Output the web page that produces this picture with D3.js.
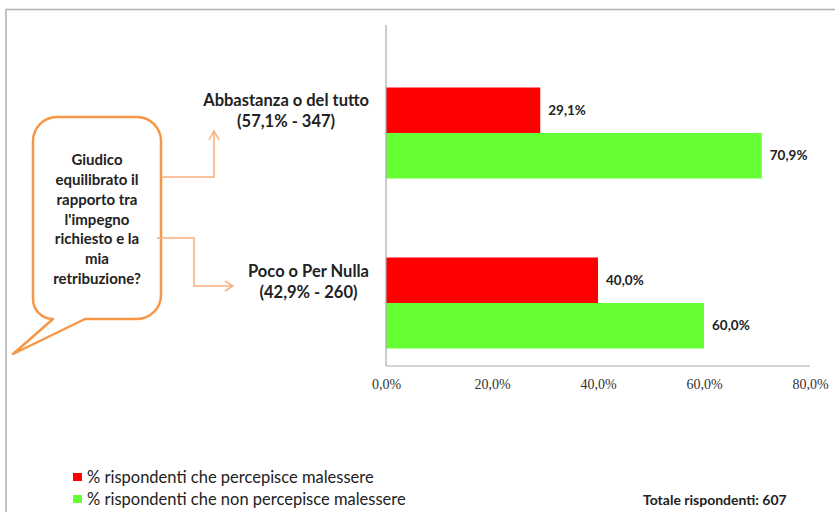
<!DOCTYPE html>
<html>
<head>
<meta charset="utf-8">
<script src="https://cdn.jsdelivr.net/npm/d3@7/dist/d3.min.js"></script>
<style>
  html, body { margin: 0; padding: 0; background: #fff; }
  svg { display: block; }
</style>
</head>
<body>
<svg id="chart" width="835" height="512"></svg>
<script>
// ---------- data ----------
const categories = ["Abbastanza o del tutto", "Poco o Per Nulla"];
const categorySubs = ["(57,1% - 347)", "(42,9% - 260)"];
const seriesNames = ["% rispondenti che percepisce malessere", "% rispondenti che non percepisce malessere"];
const malessere = [29.1, 40.0];
const nonMalessere = [70.9, 60.0];
const xTicks = [0, 20, 40, 60, 80];
const questionLines = ["Giudico", "equilibrato il", "rapporto tra", "l'impegno", "richiesto e la", "mia", "retribuzione?"];
const totalLabel = "Totale rispondenti: 607";

// ---------- setup ----------
const colors = ["#FF0000", "#66FF33"];
const svg = d3.select("#chart");
const itLocale = d3.formatLocale({decimal: ",", thousands: ".", grouping: [3], currency: ["€", ""]});
const fmt = v => itLocale.format(".1f")(v) + "%";
const labelFont = "Lato, 'Liberation Sans', sans-serif";

// outer frame
svg.append("path")
  .attr("d", "M6,512 V9.5 H835")
  .attr("fill", "none").attr("stroke", "#b0b0b0").attr("stroke-width", 1.5);

// scales
const x = d3.scaleLinear().domain([0, 80]).range([386, 810]);
const y0 = d3.scaleBand().domain(categories).range([48, 388]).paddingInner(0.4647).paddingOuter(0.4647 / 2);
const y1 = d3.scaleBand().domain([0, 1]).range([0, y0.bandwidth()]);

const rows = categories.map((c, i) => ({cat: c, sub: categorySubs[i], vals: [malessere[i], nonMalessere[i]]}));

// bars
const g = svg.append("g");
const grp = g.selectAll("g.cat").data(rows).join("g")
  .attr("class", "cat")
  .attr("transform", d => `translate(0,${y0(d.cat)})`);

grp.selectAll("rect").data(d => d.vals.map((v, k) => ({v, k}))).join("rect")
  .attr("x", x(0))
  .attr("y", d => y1(d.k))
  .attr("width", d => x(d.v) - x(0))
  .attr("height", y1.bandwidth())
  .attr("fill", d => colors[d.k]);

grp.selectAll("text.val").data(d => d.vals.map((v, k) => ({v, k}))).join("text")
  .attr("class", "val")
  .attr("x", d => x(d.v) + 8)
  .attr("y", d => y1(d.k) + y1.bandwidth() / 2)
  .attr("dy", "0.35em")
  .attr("font-family", labelFont)
  .attr("font-weight", "bold")
  .attr("font-size", 13.5)
  .attr("fill", "#222")
  .text(d => fmt(d.v));

// axes lines
svg.append("line").attr("x1", x(0)).attr("x2", x(0)).attr("y1", 25).attr("y2", 366)
  .attr("stroke", "#a8a8a8").attr("stroke-width", 1.2);
svg.append("line").attr("x1", x(0)).attr("x2", x(80)).attr("y1", 366).attr("y2", 366)
  .attr("stroke", "#a8a8a8").attr("stroke-width", 1.2);

// x ticks
const xAxis = d3.axisBottom(x).tickValues(xTicks).tickSize(0).tickPadding(0).tickFormat(fmt);
const ax = svg.append("g").attr("transform", "translate(0,379)").call(xAxis);
ax.select(".domain").remove();
ax.selectAll("text")
  .attr("font-family", "'Liberation Serif', 'DejaVu Serif', serif")
  .attr("font-size", 14)
  .attr("fill", "#333");

// category labels (block right-aligned at 369, lines centered)
const catLabelY = [100, 271];
rows.forEach((d, i) => {
  const t = svg.append("g");
  const l1 = t.append("text").attr("y", catLabelY[i]).attr("dy", "0.35em").text(d.cat);
  const l2 = t.append("text").attr("y", catLabelY[i] + 21).attr("dy", "0.35em").text(d.sub);
  t.selectAll("text")
    .attr("font-family", labelFont)
    .attr("font-weight", "bold")
    .attr("font-size", 16.5)
    .attr("fill", "#222")
    .attr("text-anchor", "middle");
  const w = Math.max(l1.node().getComputedTextLength(), l2.node().getComputedTextLength());
  t.selectAll("text").attr("x", 369 - w / 2);
});

// callout bubble
const orange = "#F79646";
const light = "#F6B07A";
const bx0 = 33, by0 = 117, bx1 = 161, by1 = 319, r = 24;
const bubble = d3.path();
bubble.moveTo(bx0 + r, by0);
bubble.lineTo(bx1 - r, by0);
bubble.arcTo(bx1, by0, bx1, by0 + r, r);
bubble.lineTo(bx1, by1 - r);
bubble.arcTo(bx1, by1, bx1 - r, by1, r);
bubble.lineTo(85, by1);
bubble.lineTo(13, 354);
bubble.lineTo(53, by1);
bubble.arcTo(bx0, by1, bx0, by1 - r, 20);
bubble.lineTo(bx0, by0 + r);
bubble.arcTo(bx0, by0, bx0 + r, by0, r);
bubble.closePath();
svg.append("path").attr("d", bubble.toString())
  .attr("fill", "#fff").attr("stroke", orange).attr("stroke-width", 2.5).attr("stroke-linejoin", "round");

svg.append("g").selectAll("text").data(questionLines).join("text")
  .attr("x", 97)
  .attr("y", (d, i) => 160 + i * 19.8)
  .attr("dy", "0.35em")
  .attr("text-anchor", "middle")
  .attr("font-family", labelFont)
  .attr("font-weight", "bold")
  .attr("font-size", 15)
  .attr("fill", "#222")
  .text(d => d);

// connectors
svg.append("path").attr("d", "M161,177 H214 V131")
  .attr("fill", "none").attr("stroke", light).attr("stroke-width", 1.5);
svg.append("path").attr("d", "M209,140 L214,131 L219,140")
  .attr("fill", "none").attr("stroke", light).attr("stroke-width", 1.5);
svg.append("path").attr("d", "M157,238 H194 V286 H233")
  .attr("fill", "none").attr("stroke", light).attr("stroke-width", 1.5);
svg.append("path").attr("d", "M225,281 L233,286 L225,291")
  .attr("fill", "none").attr("stroke", light).attr("stroke-width", 1.5);

// legend
const legY = [477, 499];
const leg = svg.append("g").selectAll("g").data(seriesNames).join("g")
  .attr("transform", (d, i) => `translate(73,${legY[i]})`);
leg.append("rect").attr("x", 0).attr("y", -4).attr("width", 9).attr("height", 8)
  .attr("fill", (d, i) => colors[i]);
leg.append("text").attr("x", 14).attr("dy", "0.35em")
  .attr("font-family", labelFont)
  .attr("font-size", 16.5)
  .attr("fill", "#222")
  .text(d => d);

svg.append("text").attr("x", 643).attr("y", 500).attr("dy", "0.35em")
  .attr("font-family", labelFont)
  .attr("font-weight", "bold")
  .attr("font-size", 14)
  .attr("fill", "#222")
  .text(totalLabel);
</script>
</body>
</html>
